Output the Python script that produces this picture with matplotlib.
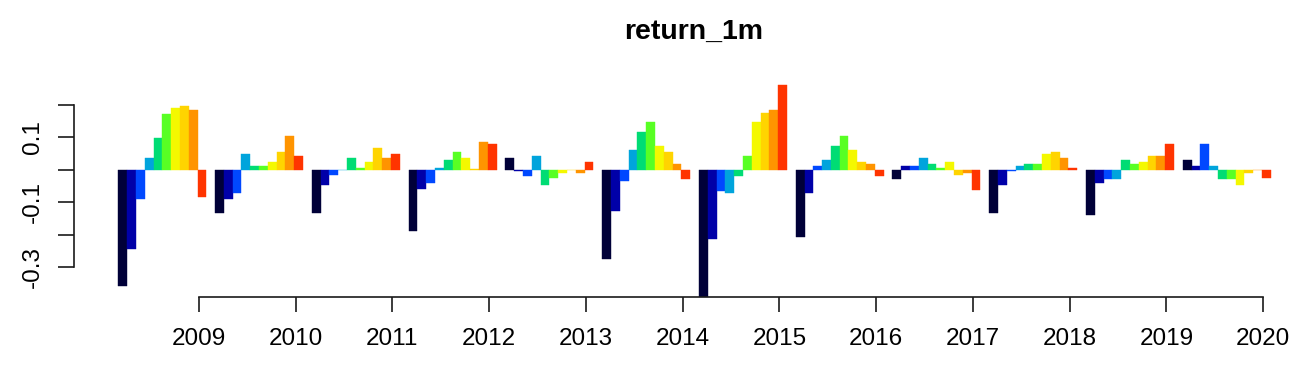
import numpy as np
import matplotlib
matplotlib.use("Agg")
import matplotlib.pyplot as plt

# monthly-ish return groups, 10 bars per year
years = [2008, 2009, 2010, 2011, 2012, 2013, 2014, 2015, 2016, 2017, 2018, 2019]
r2008 = [-0.360, -0.245, -0.091, 0.036, 0.097, 0.171, 0.190, 0.196, 0.184, -0.084]
r2009 = [-0.135, -0.091, -0.073, 0.049, 0.011, 0.011, 0.024, 0.055, 0.103, 0.042]
r2010 = [-0.135, -0.048, -0.017, 0.000, 0.036, 0.006, 0.024, 0.067, 0.036, 0.049]
r2011 = [-0.190, -0.060, -0.042, 0.005, 0.030, 0.055, 0.036, 0.003, 0.086, 0.080]
r2012 = [0.036, -0.005, -0.018, 0.042, -0.048, -0.024, -0.011, 0.000, -0.011, 0.025]
r2013 = [-0.275, -0.128, -0.036, 0.061, 0.116, 0.147, 0.073, 0.055, 0.018, -0.030]
r2014 = [-0.392, -0.214, -0.067, -0.073, -0.018, 0.042, 0.147, 0.176, 0.184, 0.263]
r2015 = [-0.207, -0.073, 0.012, 0.030, 0.072, 0.103, 0.061, 0.025, 0.018, -0.018]
r2016 = [-0.030, 0.011, 0.011, 0.036, 0.018, 0.006, 0.025, -0.017, -0.011, -0.061]
r2017 = [-0.135, -0.048, -0.005, 0.012, 0.018, 0.018, 0.049, 0.055, 0.036, 0.006]
r2018 = [-0.141, -0.042, -0.030, -0.030, 0.030, 0.018, 0.024, 0.042, 0.042, 0.080]
r2019 = [0.030, 0.011, 0.080, 0.011, -0.030, -0.030, -0.048, -0.011, 0.000, -0.024]
tick_labels = ["2009", "2010", "2011", "2012", "2013", "2014",
               "2015", "2016", "2017", "2018", "2019", "2020"]

colors = ["#000038", "#0000A8", "#0048FF", "#00A4DC", "#00DC74",
          "#58FF24", "#F4F800", "#FFD400", "#FF9400", "#FF3400"]

groups = [r2008, r2009, r2010, r2011, r2012, r2013,
          r2014, r2015, r2016, r2017, r2018, r2019]

plt.rcParams["font.family"] = ["Liberation Sans", "DejaVu Sans"]

W, H = 1302, 369
fig = plt.figure(figsize=(W / 100, H / 100), dpi=100)
# plot region (pixel layout like R's barplot, runs past right edge)
left_px, bottom_px = 74, 297.3
xlim = (-4.04, 137.0)
ylim = (-0.394, 0.2774)
px_per_x = 8.797
width_px = (xlim[1] - xlim[0]) * px_per_x
height_px = bottom_px - 80
ax = fig.add_axes([left_px / W, (H - bottom_px) / H, width_px / W, height_px / H])

# barplot(beside=TRUE), space = c(0, 1)
for g, vals in enumerate(groups):
    xs = 1 + 11 * g + np.arange(len(vals))
    ax.bar(xs, vals, width=1.0, align="edge", color=colors,
           edgecolor=colors, linewidth=0.3)

ax.set_xlim(*xlim)
ax.set_ylim(*ylim)

tick_pos = [10.15 + 11 * g for g in range(len(tick_labels))]
ax.set_xticks(tick_pos)
ax.set_xticklabels(tick_labels, fontsize=17.5)
ax.set_yticks([-0.3, -0.2, -0.1, 0.0, 0.1, 0.2])
ax.set_yticklabels(["-0.3", "", "-0.1", "", "0.1", ""], fontsize=17.5,
                   rotation=90, va="center")

for side in ["top", "right"]:
    ax.spines[side].set_visible(False)
ax.spines["left"].set_bounds(-0.3, 0.2)
ax.spines["bottom"].set_bounds(tick_pos[0], tick_pos[-1])
for side in ["left", "bottom"]:
    ax.spines[side].set_linewidth(1.2)
    ax.spines[side].set_color("#1a1a1a")
ax.tick_params(axis="x", length=10.5, width=1.2, color="#1a1a1a", pad=11.5)
ax.tick_params(axis="y", length=11.5, width=1.2, color="#1a1a1a", pad=10)

fig.text(694 / W, 1 - 31.5 / H, "return_1m", ha="center", va="center",
         fontsize=20.5, fontweight="bold")

fig.savefig("out.png", dpi=100)
